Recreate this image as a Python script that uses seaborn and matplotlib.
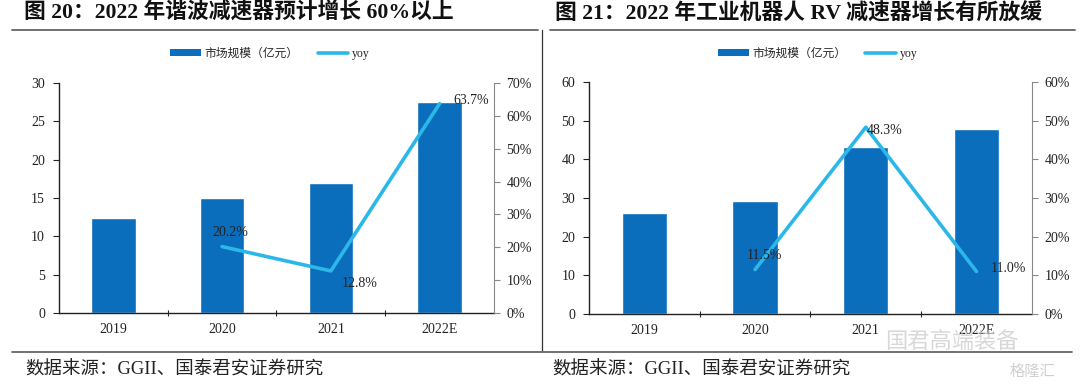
import matplotlib
matplotlib.use("Agg")
import matplotlib.pyplot as plt
import seaborn as sns
import pandas as pd
from matplotlib.patches import Patch
from matplotlib.lines import Line2D
from matplotlib.ticker import FuncFormatter, MultipleLocator

# data
years = ["2019", "2020", "2021", "2022E"]
harmonic_size = [12.4, 15.0, 16.9, 27.5]
harmonic_yoy = [None, 20.2, 12.8, 63.7]
rv_size = [26.1, 29.2, 43.1, 47.9]
rv_yoy = [None, 11.5, 48.3, 11.0]

title_left = "图 20：2022 年谐波减速器预计增长 60%以上"
title_right = "图 21：2022 年工业机器人 RV 减速器增长有所放缓"
source = "数据来源：GGII、国泰君安证券研究"
bar_name = "市场规模（亿元）"
line_name = "yoy"

BAR = "#0A6EBD"
LINE = "#2BB7E8"

sns.set_style("white")
plt.rcParams["font.family"] = ["Liberation Serif", "Noto Sans CJK SC", "DejaVu Sans"]
plt.rcParams["axes.unicode_minus"] = False

fig = plt.figure(figsize=(10.8, 3.89), dpi=100)


def panel(rect, sizes, yoy, ymax, ystep, pmax, offsets):
    ax = fig.add_axes(rect)
    df = pd.DataFrame({"year": years, "size": sizes})
    sns.barplot(data=df, x="year", y="size", color=BAR, width=0.41,
                saturation=1, ax=ax, zorder=2)
    ax.set_xlabel("")
    ax.set_ylabel("")
    ax.set_ylim(0, ymax)
    ax.set_xlim(-0.5, len(years) - 0.5)
    ax.yaxis.set_major_locator(MultipleLocator(ystep))
    for s in ["top", "right"]:
        ax.spines[s].set_visible(False)
    for s in ["left", "bottom"]:
        ax.spines[s].set_color("#222222")
        ax.spines[s].set_linewidth(1.0)
    ax.tick_params(axis="y", direction="out", length=4, width=0.8,
                   labelsize=10, colors="#222222", left=True, pad=6)
    ax.tick_params(axis="x", length=0, labelsize=10, pad=7, colors="#222222")
    # boundary ticks between categories
    ax.set_xticks([i + 0.5 for i in range(len(years) - 1)], minor=True)
    ax.tick_params(axis="x", which="minor", direction="inout", length=5,
                   width=0.8, bottom=True)

    ax2 = ax.twinx()
    xs = [i for i, v in enumerate(yoy) if v is not None]
    vs = [v for v in yoy if v is not None]
    ax2.plot(xs, vs, color=LINE, lw=2.6, zorder=3)
    ax2.set_ylim(0, pmax)
    ax2.yaxis.set_major_locator(MultipleLocator(10))
    ax2.yaxis.set_major_formatter(FuncFormatter(lambda v, p: f"{v:.0f}%"))
    for s in ["top", "left", "bottom"]:
        ax2.spines[s].set_visible(False)
    ax2.spines["right"].set_color("#888888")
    ax2.spines["right"].set_linewidth(0.8)
    ax2.tick_params(axis="y", direction="out", length=4, width=0.8,
                    labelsize=10, colors="#888888", labelcolor="#222222",
                    right=True, pad=5)
    for x, v, off in zip(xs, vs, offsets):
        ax2.annotate(f"{v:.1f}%", (x, v), xytext=off, textcoords="offset points",
                     fontsize=10, color="#222222", va="center", ha="left")
    return ax


ax_l = panel([0.0546, 0.1954, 0.4028, 0.5913], harmonic_size, harmonic_yoy,
             30, 5, 70, [(-7, 10), (8, -9), (10, 2)])
ax_r = panel([0.5454, 0.1928, 0.410, 0.5964], rv_size, rv_yoy,
             60, 10, 60, [(-6, 10), (1, -2), (10, 2)])

# legends
handles = [Patch(facecolor=BAR, edgecolor="none"),
           Line2D([0], [0], color=LINE, lw=2.6)]
for cx in [0.25, 0.757]:
    fig.legend(handles, [bar_name, line_name], loc="center",
               bbox_to_anchor=(cx, 0.862), ncol=2, frameon=False,
               fontsize=8.5, handlelength=2.6, handleheight=0.45,
               columnspacing=1.6, handletextpad=0.3)

# titles
fig.text(24 / 1080, 1 - 13 / 389, title_left, fontsize=15.7, fontweight="bold",
         va="center", ha="left", color="#111111")
fig.text(555 / 1080, 1 - 13 / 389, title_right, fontsize=15.7, fontweight="bold",
         va="center", ha="left", color="#111111")

# rules and divider
fig.add_artist(Line2D([12 / 1080, 538 / 1080], [1 - 30 / 389] * 2,
                      color="#666666", lw=1.3))
fig.add_artist(Line2D([550 / 1080, 1075 / 1080], [1 - 30 / 389] * 2,
                      color="#666666", lw=1.3))
fig.add_artist(Line2D([542 / 1080] * 2, [1 - 30 / 389, 1 - 351 / 389],
                      color="#333333", lw=0.9))
fig.add_artist(Line2D([12 / 1080, 1072 / 1080], [1 - 352 / 389] * 2,
                      color="#666666", lw=1.3))

# sources
fig.text(25 / 1080, 1 - 370 / 389, source, fontsize=13.3, va="center",
         ha="left", color="#222222")
fig.text(552 / 1080, 1 - 370 / 389, source, fontsize=13.3, va="center",
         ha="left", color="#222222")

# watermark
fig.text(885 / 1080, 1 - 341 / 389, "国君高端装备", fontsize=16, va="center",
         ha="left", color="#C8C8C8", alpha=0.7, family=["Noto Sans CJK SC"])
fig.text(1010 / 1080, 1 - 371 / 389, "格隆汇", fontsize=11, va="center",
         ha="left", color="#C4C4C4", alpha=0.8, family=["Noto Sans CJK SC"])

fig.savefig("out.png", dpi=100)
